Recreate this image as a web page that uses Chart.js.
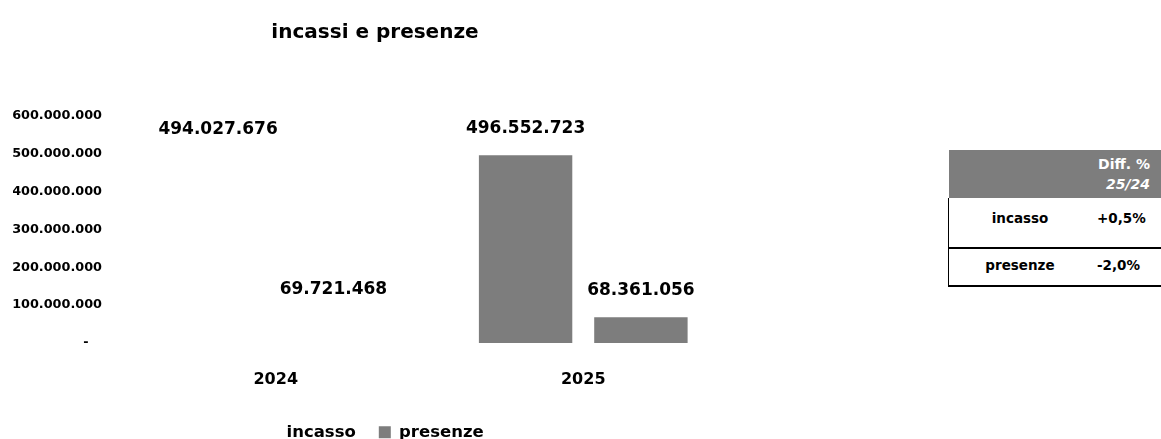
<!DOCTYPE html>
<html>
<head>
<meta charset="utf-8">
<script src="https://cdn.jsdelivr.net/npm/chart.js@4.4.1/dist/chart.umd.min.js"></script>
<style>
    body { margin: 0; background: #fff; overflow: hidden; width: 1161px; height: 439px; position: relative; }
    #wrap { position: absolute; left: 0; top: 0; width: 770px; height: 439px; }
    #diff { position: absolute; left: 948px; top: 150px; width: 230px; border-collapse: collapse;
        font-family: "DejaVu Sans", sans-serif; font-weight: bold; font-size: 13.5px; color: #000; }
    #diff th { background: #7d7d7d; color: #fff; height: 48px; text-align: right; padding: 0 28px 0 0;
        font-size: 14px; line-height: 20px; }
    #diff td { border-left: 1px solid #000; }
    #diff tr.r1 td { height: 38px; padding-bottom: 10px; border-bottom: 2px solid #000; }
    #diff tr.r2 td { height: 29px; padding-bottom: 6px; border-bottom: 2px solid #000; }
    #diff td.lab { text-align: center; width: 140px; }
    #diff td.val { border-left: none; text-align: left; padding-left: 6px; }
</style>
</head>
<body>
<div id="wrap"><canvas id="myChart"></canvas></div>
<table id="diff">
    <tr><th colspan="2">Diff. %<br><i>25/24</i></th></tr>
    <tr class="r1"><td class="lab">incasso</td><td class="val">+0,5%</td></tr>
    <tr class="r2"><td class="lab">presenze</td><td class="val">-2,0%</td></tr>
</table>
<script>
let years = ['2024', '2025'];
let incasso = [494027676, 496552723];
let presenze = [69721468, 68361056];
let yTicks = [0, 100000000, 200000000, 300000000, 400000000, 500000000, 600000000];

function fmt(n) {
    return String(Math.round(n)).replace(/\B(?=(\d{3})+(?!\d))/g, '.');
}

let legendColors = ['#ffffff', '#7d7d7d'];

// draw the value above every bar
let valueLabels = {
    id: 'valueLabels',
    afterDatasetsDraw(chart) {
        let ctx = chart.ctx;
        ctx.save();
        ctx.font = 'bold 17px "DejaVu Sans"';
        ctx.fillStyle = '#000';
        ctx.textAlign = 'center';
        ctx.textBaseline = 'middle';
        chart.data.datasets.forEach((ds, i) => {
            chart.getDatasetMeta(i).data.forEach((bar, j) => {
                ctx.fillText(fmt(ds.data[j]), bar.x, bar.y - 27);
            });
        });
        ctx.restore();
    }
};

let myChart = new Chart(document.getElementById('myChart').getContext('2d'), {
    type: 'bar',
    data: {
        labels: years,
        datasets: [{
            label: 'incasso',
            data: incasso,
            backgroundColor: ['#ffffff', '#7d7d7d']
        }, {
            label: 'presenze',
            data: presenze,
            backgroundColor: ['#ffffff', '#7d7d7d']
        }]
    },
    plugins: [valueLabels],
    options: {
        responsive: true,
        maintainAspectRatio: false,
        animation: false,
        layout: { padding: { left: 13, right: 33, top: 0, bottom: 0 } },
        datasets: { bar: { categoryPercentage: 0.75, barPercentage: 0.81 } },
        scales: {
            x: {
                grid: { display: false },
                border: { display: false },
                afterFit: (axis) => { axis.height = 58; },
                ticks: { color: '#000', padding: 19, font: { family: 'DejaVu Sans', weight: 'bold', size: 16 } }
            },
            y: {
                min: 0,
                max: 600000000,
                grid: { display: false },
                border: { display: false },
                afterFit: (axis) => { axis.width = 109; },
                afterBuildTicks: (axis) => { axis.ticks = yTicks.map(v => ({ value: v })); },
                ticks: {
                    color: '#000',
                    padding: 12,
                    font: { family: 'DejaVu Sans', weight: 'bold', size: 12.8 },
                    callback: (v) => v === 0 ? '-   ' : fmt(v)
                }
            }
        },
        plugins: {
            title: {
                display: true,
                text: 'incassi e presenze',
                color: '#000',
                font: { family: 'DejaVu Sans', weight: 'bold', size: 20 },
                padding: { top: 21, bottom: 71 }
            },
            legend: {
                position: 'bottom',
                maxHeight: 38,
                labels: {
                    color: '#000',
                    boxWidth: 12,
                    boxHeight: 12,
                    padding: 23,
                    font: { family: 'DejaVu Sans', weight: 'bold', size: 16.5 },
                    generateLabels: (chart) => chart.data.datasets.map((ds, i) => ({
                        text: ds.label,
                        fillStyle: legendColors[i],
                        strokeStyle: legendColors[i],
                        lineWidth: 0,
                        datasetIndex: i,
                        fontColor: '#000'
                    }))
                }
            },
            tooltip: { enabled: false }
        }
    }
});
</script>
</body>
</html>
